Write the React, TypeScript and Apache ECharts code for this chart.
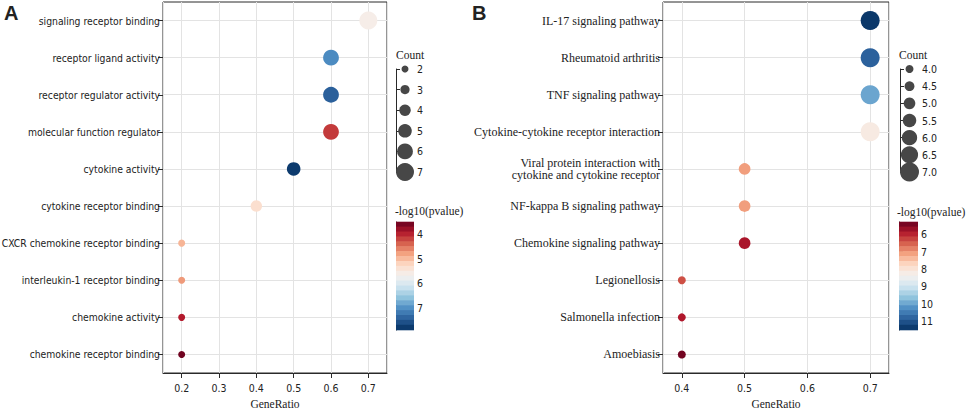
import React, { useEffect, useRef } from "react";
import * as echarts from "echarts";

// ---------- Panel A (GO) ----------
const catsA = [
  "signaling receptor binding",
  "receptor ligand activity",
  "receptor regulator activity",
  "molecular function regulator",
  "cytokine activity",
  "cytokine receptor binding",
  "CXCR chemokine receptor binding",
  "interleukin-1 receptor binding",
  "chemokine activity",
  "chemokine receptor binding",
];
const ratioA = [0.7, 0.6, 0.6, 0.6, 0.5, 0.4, 0.2, 0.2, 0.2, 0.2];
const countA = [7, 6, 6, 6, 5, 4, 2, 2, 2, 2];
const logpA = [5.62, 7.05, 7.45, 4.15, 7.8, 5.35, 4.95, 4.75, 3.95, 3.55];
const countTicksA = [2, 3, 4, 5, 6, 7];
const xRangeA = [0.15, 0.75];
const pRangeA = [3.5, 7.9];

// ---------- Panel B (KEGG) ----------
const catsB = [
  "IL-17 signaling pathway",
  "Rheumatoid arthritis",
  "TNF signaling pathway",
  "Cytokine-cytokine receptor interaction",
  "Viral protein interaction with\ncytokine and cytokine receptor",
  "NF-kappa B signaling pathway",
  "Chemokine signaling pathway",
  "Legionellosis",
  "Salmonella infection",
  "Amoebiasis",
];
const ratioB = [0.7, 0.7, 0.7, 0.7, 0.5, 0.5, 0.5, 0.4, 0.4, 0.4];
const countB = [7, 7, 7, 7, 5, 5, 5, 4, 4, 4];
const logpB = [11.4, 10.85, 10.0, 8.2, 7.1, 7.1, 5.85, 6.4, 5.9, 5.4];
const countTicksB = [4, 4.5, 5, 5.5, 6, 6.5, 7];
const xRangeB = [0.37, 0.73];
const pRangeB = [5.3, 11.5];

const RdBu = [
  "#67001f", "#b2182b", "#d6604d", "#f4a582", "#fddbc7", "#f4f1ef",
  "#d1e5f0", "#92c5de", "#4f8ec4", "#2a5f9a", "#053061",
];

const SANS = "'DejaVu Sans Condensed', 'Liberation Sans', sans-serif";
const SERIF = "'Liberation Serif', 'DejaVu Serif', serif";
const GRID_LINE = "#e3e3e3";
const AXIS = "#2a2a2a";
const TEXT = "#222";

function bands(range: number[], n: number) {
  const out: number[][] = [];
  const step = (range[1] - range[0]) / n;
  for (let i = 0; i < n; i++) {
    const lo = range[0] + i * step;
    const hi = lo + step;
    out.push([0, lo, (lo + hi) / 2, hi]);
  }
  return out;
}

function renderBand(params: any, api: any) {
  const p0 = api.coord([0, api.value(1)]);
  const p1 = api.coord([1, api.value(3)]);
  const y = Math.min(p0[1], p1[1]);
  return {
    type: "rect",
    shape: { x: p0[0], y: y - 0.3, width: p1[0] - p0[0], height: Math.abs(p1[1] - p0[1]) + 0.6 },
    style: { fill: api.visual("color") },
  };
}

export default function App() {
  const ref = useRef<HTMLDivElement>(null);
  useEffect(() => {
    if (!ref.current) return;
    const chart = echarts.init(ref.current, null, { renderer: "svg" });

    const frameH = 371;
    const frameTop = 2;
    const band = frameH / 10;

    const panel = (
      left: number,
      width: number,
      xRange: number[],
      cats: string[],
      labelFont: any
    ) => ({
      grids: [
        { left, top: frameTop, width, height: frameH, show: true, borderColor: AXIS, borderWidth: 1, backgroundColor: "transparent", outerBoundsMode: "none", containLabel: false },
        { left, top: frameTop + band / 2, width, height: frameH - band, outerBoundsMode: "none", containLabel: false },
      ],
      xAxes: (gi: number) => [
        {
          gridIndex: gi,
          type: "value",
          min: xRange[0],
          max: xRange[1],
          minInterval: 0.1,
          maxInterval: 0.1,
          axisLine: { show: true, lineStyle: { color: AXIS, width: 1 } },
          axisTick: { show: true, length: 5, lineStyle: { color: AXIS } },
          axisLabel: {
            showMinLabel: false,
            showMaxLabel: false,
            color: TEXT,
            fontSize: 10.5,
            fontFamily: SANS,
            margin: 9,
            formatter: (v: number) => v.toFixed(1),
          },
          splitLine: { show: true, lineStyle: { color: GRID_LINE, width: 1 } },
          name: "GeneRatio",
          nameLocation: "middle",
          nameGap: 23,
          nameTextStyle: { fontFamily: SERIF, fontSize: 11.5, color: TEXT },
        },
        { gridIndex: gi + 1, type: "value", min: xRange[0], max: xRange[1], show: false },
      ],
      yAxes: (gi: number) => [
        { gridIndex: gi, type: "value", min: 0, max: 1, show: false },
        {
          gridIndex: gi + 1,
          type: "category",
          data: cats,
          inverse: true,
          boundaryGap: false,
          axisLine: { show: false },
          axisTick: { show: true, length: 5, lineStyle: { color: AXIS } },
          axisLabel: { margin: 3, color: TEXT, ...labelFont },
          splitLine: { show: true, lineStyle: { color: GRID_LINE, width: 1 } },
        },
      ],
    });

    const pA = panel(163, 224, xRangeA, catsA, { fontFamily: SANS, fontSize: 10.3 });
    const pB = panel(663, 226, xRangeB, catsB, { fontFamily: SERIF, fontSize: 12, lineHeight: 12.5 });

    const legendGrid = (left: number, width: number) => ({ left, top: 69, width, height: 103, outerBoundsMode: "none", containLabel: false });
    const cbarGrid = (left: number, width: number) => ({ left, top: 222, width, height: 108, outerBoundsMode: "none", containLabel: false });

    const legendAxis = (gi: number, ticks: number[], step: number, fmt: (v: number) => string) => ({
      gridIndex: gi,
      type: "value",
      position: "right",
      inverse: true,
      min: ticks[0],
      max: ticks[ticks.length - 1],
      interval: step,
      axisLine: { show: true, lineStyle: { color: AXIS } },
      axisTick: { show: true, length: 4, lineStyle: { color: AXIS } },
      axisLabel: { margin: 3, fontSize: 10.5, fontFamily: SANS, color: TEXT, formatter: fmt },
      splitLine: { show: false },
    });

    const cbarAxis = (gi: number, range: number[]) => ({
      gridIndex: gi,
      type: "value",
      position: "right",
      inverse: true,
      min: range[0],
      max: range[1],
      minInterval: 1,
      maxInterval: 1,
      axisLine: { show: true, lineStyle: { color: AXIS } },
      axisTick: { show: true, length: 4, lineStyle: { color: AXIS } },
      axisLabel: { margin: 3, fontSize: 10.5, fontFamily: SANS, color: TEXT, showMinLabel: false, showMaxLabel: false },
      splitLine: { show: false },
    });

    const hiddenX = (gi: number) => ({ gridIndex: gi, type: "value", min: 0, max: 1, show: false });

    // grid indices: 0 frameA,1 dataA,2 legA,3 cbarA,4 frameB,5 dataB,6 legB,7 cbarB
    const grid = [
      ...pA.grids,
      legendGrid(396, 18),
      cbarGrid(396, 18),
      ...pB.grids,
      legendGrid(900, 19),
      cbarGrid(899, 19),
    ];
    const xAxis = [...pA.xAxes(0), hiddenX(2), hiddenX(3), ...pB.xAxes(4), hiddenX(6), hiddenX(7)];
    const yAxis = [
      ...pA.yAxes(0),
      legendAxis(2, countTicksA, 1, (v: number) => String(v)),
      cbarAxis(3, pRangeA),
      ...pB.yAxes(4),
      legendAxis(6, countTicksB, 0.5, (v: number) => v.toFixed(1)),
      cbarAxis(7, pRangeB),
    ];

    const dataA = catsA.map((_, i) => [ratioA[i], i, logpA[i], countA[i]]);
    const dataB = catsB.map((_, i) => [ratioB[i], i, logpB[i], countB[i]]);

    const series: any[] = [
      { type: "scatter", xAxisIndex: 1, yAxisIndex: 1, data: dataA, encode: { x: 0, y: 1 }, itemStyle: { opacity: 1 }, z: 3 },
      { type: "scatter", xAxisIndex: 2, yAxisIndex: 2, data: countTicksA.map((v) => [0.5, v, 0, v]), encode: { x: 0, y: 1 }, itemStyle: { color: "#474747", opacity: 1 } },
      { type: "custom", xAxisIndex: 3, yAxisIndex: 3, data: bands(pRangeA, 22), encode: { x: 0, y: [1, 3] }, renderItem: renderBand, clip: false },
      { type: "scatter", xAxisIndex: 5, yAxisIndex: 5, data: dataB, encode: { x: 0, y: 1 }, itemStyle: { opacity: 1 }, z: 3 },
      { type: "scatter", xAxisIndex: 6, yAxisIndex: 6, data: countTicksB.map((v) => [0.5, v, 0, v]), encode: { x: 0, y: 1 }, itemStyle: { color: "#474747", opacity: 1 } },
      { type: "custom", xAxisIndex: 7, yAxisIndex: 7, data: bands(pRangeB, 22), encode: { x: 0, y: [1, 3] }, renderItem: renderBand, clip: false },
    ];

    const visualMap = [
      { type: "continuous", show: false, seriesIndex: [0, 2], dimension: 2, min: pRangeA[0], max: pRangeA[1], inRange: { color: RdBu } },
      { type: "continuous", show: false, seriesIndex: [0, 1], dimension: 3, min: countTicksA[0], max: countTicksA[countTicksA.length - 1], inRange: { symbolSize: [7, 18] } },
      { type: "continuous", show: false, seriesIndex: [3, 5], dimension: 2, min: pRangeB[0], max: pRangeB[1], inRange: { color: RdBu } },
      { type: "continuous", show: false, seriesIndex: [3, 4], dimension: 3, min: countTicksB[0], max: countTicksB[countTicksB.length - 1], inRange: { symbolSize: [8, 19] } },
    ];

    const txt = (text: string, x: number, y: number, font: string) => ({
      type: "text",
      x,
      y,
      style: { text, font, fill: TEXT, verticalAlign: "middle", align: "left" },
    });

    const graphic = [
      txt("A", 4, 13, "bold 20px 'Liberation Sans', sans-serif"),
      txt("B", 472, 13, "bold 20px 'Liberation Sans', sans-serif"),
      txt("Count", 396, 55, `11.5px ${SERIF}`),
      txt("-log10(pvalue)", 395, 211, `11.5px ${SERIF}`),
      txt("Count", 899, 55, `11.5px ${SERIF}`),
      txt("-log10(pvalue)", 897, 212, `11.5px ${SERIF}`),
    ];

    chart.setOption({
      animation: false,
      backgroundColor: "#ffffff",
      grid,
      xAxis,
      yAxis,
      series,
      visualMap,
      graphic,
    } as any);

    return () => chart.dispose();
  }, []);

  return (
    <div
      ref={ref}
      style={{ position: "absolute", left: 0, top: 0, width: 969, height: 409 }}
    />
  );
}
